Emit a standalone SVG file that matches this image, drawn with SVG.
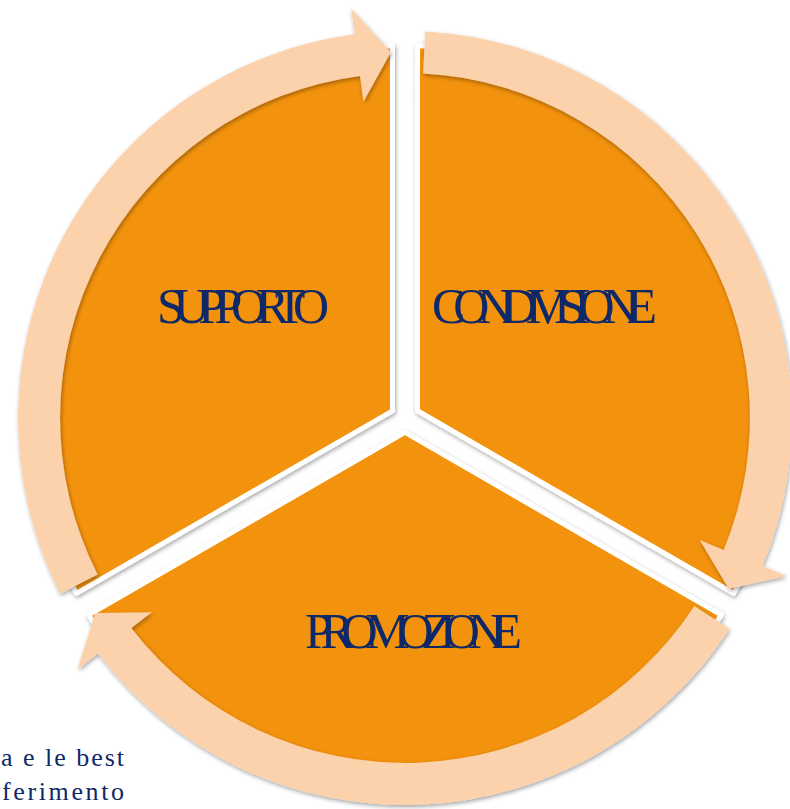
<svg xmlns="http://www.w3.org/2000/svg" width="790" height="809" viewBox="0 0 790 809">
<defs>
<style>
.seg{fill:#F39208;stroke:#FFFFFF;stroke-width:5;stroke-linejoin:round}
.arr{fill:#FCD2AD}
.lbl{font-family:"Liberation Serif","Times New Roman",serif;font-size:50px;fill:#0E2868}
.side{font-family:"Liberation Serif","Times New Roman",serif;font-size:26px;fill:#0E2868}
</style>
<filter id="sh" x="-10%" y="-10%" width="120%" height="120%">
<feGaussianBlur in="SourceAlpha" stdDeviation="2"/>
<feOffset dx="1" dy="2" result="b"/>
<feFlood flood-color="#000000" flood-opacity="0.35"/>
<feComposite in2="b" operator="in"/>
<feMerge><feMergeNode/><feMergeNode in="SourceGraphic"/></feMerge>
</filter>
<path id="sector" d="M392.5 410.8 L76.4 593.3 A365 365 0 0 1 392.5 45.8 Z"/>
<path id="arrow" d="M60.2 593.7 A387 387 0 0 1 354.5 34.3 L351.1 8.6 L390.9 52.3 L363.4 101.7 L360 76 A345 345 0 0 0 97.6 574.6 Z"/>
</defs>
<rect width="790" height="809" fill="#FFFFFF"/>
<text class="side" x="1" y="766" textLength="123" lengthAdjust="spacing">a e le best</text>
<text class="side" x="2" y="800" textLength="122" lengthAdjust="spacing">ferimento</text>
<g id="supporto">
<g filter="url(#sh)"><use href="#sector" class="seg"/></g>
<text class="lbl" x="157" y="323" textLength="172" lengthAdjust="spacing">SUPPORTO</text>
</g>
<g id="condivisione">
<g filter="url(#sh)"><use href="#sector" class="seg" transform="rotate(120 405 418)"/></g>
<text class="lbl" x="432" y="323" textLength="225" lengthAdjust="spacing">CONDIVISIONE</text>
</g>
<g id="promozione">
<g filter="url(#sh)"><use href="#sector" class="seg" transform="rotate(240 405 418)"/></g>
<text class="lbl" x="305" y="648" textLength="217" lengthAdjust="spacing">PROMOZIONE</text>
</g>
<g id="connectors">
<g filter="url(#sh)"><use href="#arrow" class="arr"/></g>
<g filter="url(#sh)"><use href="#arrow" class="arr" transform="rotate(120 405 418)"/></g>
<g filter="url(#sh)"><use href="#arrow" class="arr" transform="rotate(240 405 418)"/></g>
</g>
</svg>
